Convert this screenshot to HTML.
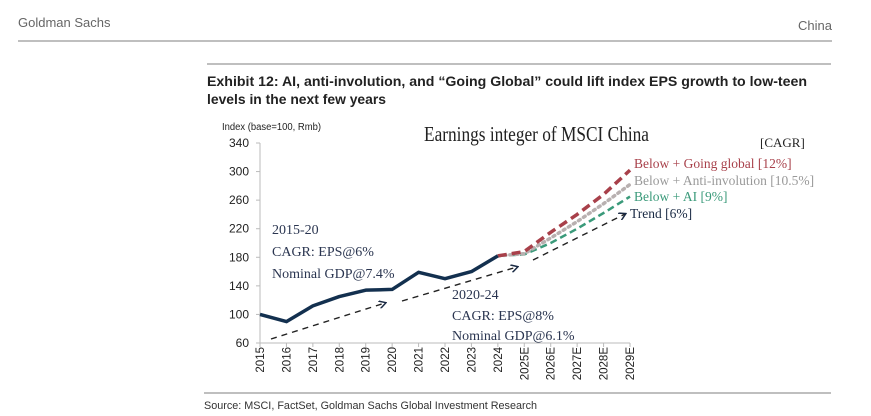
<!DOCTYPE html>
<html><head><meta charset="utf-8"><style>
body{margin:0;background:#fff;}
svg{display:block;font-family:"Liberation Sans",sans-serif;}
</style></head><body>
<svg id="c" width="871" height="416" viewBox="0 0 871 416">
<text x="18" y="27" font-size="13" fill="#666">Goldman Sachs</text>
<text x="832" y="30" font-size="13" fill="#666" text-anchor="end">China</text>
<line x1="18" y1="41" x2="832" y2="41" stroke="#999" stroke-width="1.2"/>
<line x1="207" y1="64" x2="831" y2="64" stroke="#999" stroke-width="1.2"/>
<text x="207" y="86" font-size="14" font-weight="bold" fill="#222" textLength="600" lengthAdjust="spacingAndGlyphs">Exhibit 12: AI, anti-involution, and “Going Global” could lift index EPS growth to low-teen</text>
<text x="207" y="104" font-size="14" font-weight="bold" fill="#222" textLength="179" lengthAdjust="spacingAndGlyphs">levels in the next few years</text>
<text x="222" y="130" font-size="10" fill="#222" textLength="99" lengthAdjust="spacingAndGlyphs">Index (base=100, Rmb)</text>
<text x="424" y="141" font-size="21" font-family="Liberation Serif,serif" fill="#222" textLength="225" lengthAdjust="spacingAndGlyphs">Earnings integer of MSCI China</text>
<text x="760" y="147" font-size="13" font-family="Liberation Serif,serif" fill="#222">[CAGR]</text>
<g id="axes"></g><g id="marks"></g>
<line x1="204" y1="393" x2="831" y2="393" stroke="#999" stroke-width="1.2"/>
<text x="204" y="409" font-size="11" fill="#333" textLength="333" lengthAdjust="spacingAndGlyphs">Source: MSCI, FactSet, Goldman Sachs Global Investment Research</text>
</svg>
<script>
const categories=["2015","2016","2017","2018","2019","2020","2021","2022","2023","2024","2025E","2026E","2027E","2028E","2029E"];
const yTicks=[60,100,140,180,220,260,300,340];
const actual=[100,90,112,125,134,135,159,150,160,182];
const goingGlobal=[182,188,215,240,268,302];
const antiInvolution=[182,185,207,230,255,282];
const aiCase=[182,184,200,220,242,265];
const seriesNames=["Below + Going global [12%]","Below + Anti-involution [10.5%]","Below + AI [9%]","Trend [6%]"];
const NS="http://www.w3.org/2000/svg";
const x=i=>260+i*(370/14);
const y=v=>343-(v-60)*(200/280);
function mk(t,a,p){const e=document.createElementNS(NS,t);for(const k in a)e.setAttribute(k,a[k]);p.appendChild(e);return e;}
const ax=document.getElementById('axes'),mg=document.getElementById('marks');
const yl=mk('line',{x1:260,y1:y(340),x2:260,y2:y(60),stroke:'#bbb'},ax);


const xl=mk('line',{x1:260,y1:y(60),x2:x(14),y2:y(60),stroke:'#bbb'},ax);


yTicks.forEach(v=>{
 mk('line',{x1:256,y1:y(v),x2:260,y2:y(v),stroke:'#bbb'},ax);
 const t=mk('text',{x:249,y:y(v)+4,'font-size':12,'text-anchor':'end',fill:'#222'},ax);t.textContent=v;
 
 
});
categories.forEach((c,i)=>{
 mk('line',{x1:x(i),y1:y(60),x2:x(i),y2:y(60)+4,stroke:'#bbb'},ax);
 const t=mk('text',{x:0,y:0,'font-size':11.5,'text-anchor':'end',fill:'#222',transform:`translate(${x(i)+4},${y(60)+4}) rotate(-90)`},ax);t.textContent=c;
 
 
});
function pts(arr,off){return arr.map((v,i)=>x(i+off)+','+y(v)).join(' ');}
const defs=mk('defs',{},mg);
const m=mk('marker',{id:'ah',markerWidth:8,markerHeight:8,refX:6,refY:4,orient:'auto',markerUnits:'userSpaceOnUse'},defs);
mk('path',{d:'M0,0 L7,4 L0,8',fill:'none',stroke:'#1a2a44','stroke-width':1.5},m);
const trendLines=[[271,339,385,303],[402,301,517,267],[533,260,625,214]];
trendLines.forEach(l=>{
 const e=mk('line',{x1:l[0],y1:l[1],x2:l[2],y2:l[3],stroke:'#222','stroke-width':1.4,'stroke-dasharray':'6,5','marker-end':'url(#ah)'},mg);
 
 
});
const a=mk('polyline',{points:pts(aiCase,9),fill:'none',stroke:'#3a9a7a','stroke-width':2.5,'stroke-dasharray':'7,4'},mg);


const b=mk('polyline',{points:pts(antiInvolution,9),fill:'none',stroke:'#b8b0b0','stroke-width':3.5,'stroke-dasharray':'2,4','stroke-linecap':'round'},mg);


const g=mk('polyline',{points:pts(goingGlobal,9),fill:'none',stroke:'#a8404a','stroke-width':3.5,'stroke-dasharray':'9,5'},mg);


const ln=mk('polyline',{points:pts(actual,0),fill:'none',stroke:'#13304f','stroke-width':3.5,'stroke-linejoin':'round'},mg);


const lab=[[634,168,'#a8404a'],[634,185,'#999'],[634,201,'#3a9a7a'],[630,218,'#1a2a44']];
seriesNames.forEach((n,i)=>{
 const t=mk('text',{x:lab[i][0],y:lab[i][1],'font-size':13.5,'font-family':'Liberation Serif,serif',fill:lab[i][2]},mg);t.textContent=n;
 
 
});
const notes=[[272,234,"2015-20"],[272,256,"CAGR: EPS@6%"],[272,278,"Nominal GDP@7.4%"],[452,299,"2020-24"],[452,320,"CAGR: EPS@8%"],[452,340,"Nominal GDP@6.1%"]];
notes.forEach(n=>{
 const t=mk('text',{x:n[0],y:n[1],'font-size':14,'font-family':'Liberation Serif,serif',fill:'#2a3550'},mg);t.textContent=n[2];
 
 
});
</script>
</body></html>
